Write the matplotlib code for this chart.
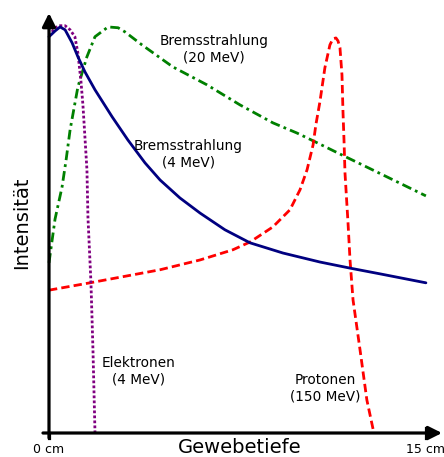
import numpy as np
import matplotlib
matplotlib.use("Agg")
import matplotlib.pyplot as plt

# ── Data (depth in cm, relative intensity in %) ────────────────────────────
brems4_depth = [0.00, 0.24, 0.44, 0.64, 0.92, 1.15, 1.43, 1.83, 2.51, 3.14,
                3.82, 4.42, 5.21, 6.01, 7.00, 8.00, 9.31, 10.78, 11.98, 13.17, 15.00]
brems4_int = [97.1, 98.5, 99.5, 98.8, 95.6, 92.2, 88.5, 84.1, 77.5, 71.8,
              66.2, 62.0, 57.6, 53.9, 49.8, 46.6, 44.1, 41.9, 40.4, 39.0, 36.8]

brems20_depth = [0.00, 0.24, 0.52, 0.68, 0.84, 1.15, 1.51, 1.83, 2.35, 2.75,
                 3.02, 3.70, 4.93, 6.29, 7.60, 8.91, 9.87, 10.51, 11.70,
                 13.17, 15.00]
brems20_int = [41.7, 52.4, 60.3, 66.9, 74.3, 84.8, 92.2, 97.1, 99.5, 99.3,
               98.3, 95.1, 89.7, 85.3, 80.4, 76.0, 73.5, 71.6, 68.0,
               63.6, 58.1]

proton_depth = [0.00, 1.63, 4.42, 6.01, 7.32, 8.00, 8.91, 9.59, 9.99, 10.27,
                10.51, 10.62, 10.78, 10.98, 11.18, 11.30, 11.42, 11.50, 11.58,
                11.66, 11.70, 11.74, 11.78, 11.90, 11.98, 12.10, 12.38, 12.65,
                12.93]
proton_int = [35.0, 36.8, 40.0, 42.4, 44.9, 46.8, 50.5, 54.7, 59.6, 64.5,
              70.6, 75.5, 81.1, 89.5, 95.1, 96.6, 96.8, 96.1, 94.4,
              87.7, 78.7, 71.8, 63.7, 51.5, 42.4, 32.6, 20.3, 8.1, 0.0]

electron_depth = [0.00, 0.24, 0.44, 0.64, 0.84, 1.03, 1.15, 1.27, 1.35, 1.43,
                  1.51, 1.55, 1.67, 1.75, 1.83]
electron_int = [97.3, 99.3, 99.8, 99.8, 98.8, 97.1, 93.1, 86.3, 80.4, 72.5,
                64.5, 52.9, 36.8, 20.3, 0.2]

fig = plt.figure(figsize=(4.44, 4.57), dpi=100)
ax = fig.add_axes([0, 0, 1, 1])
ax.set_xlim(-1.95, 15.72)
ax.set_ylim(-5.88, 106.1)
ax.axis("off")

ax.plot(brems20_depth, brems20_int, color="#008000", lw=2,
        linestyle=(0, (3.5, 1.5, 1, 1.5)))
ax.plot(proton_depth, proton_int, color="#ff0000", lw=2,
        linestyle=(0, (3, 1.5)))
ax.plot(electron_depth, electron_int, color="#800080", lw=2,
        linestyle=(0, (1, 0.8)))
ax.plot(brems4_depth, brems4_int, color="#000080", lw=2, solid_capstyle="round")

# axes with arrow heads
arrow = dict(arrowstyle="-|>", lw=2.3, color="black", mutation_scale=20,
             shrinkA=0, shrinkB=0)
ax.annotate("", xy=(0, 102.9), xytext=(0, -1.2), arrowprops=arrow)
ax.annotate("", xy=(15.64, 0), xytext=(-0.24, 0), arrowprops=arrow)
ax.plot([0, 0], [0, -1.2], color="black", lw=2.3)
ax.plot([15, 15], [1.2, -1.2], color="black", lw=2.3)

ax.text(0, -4.1, "0 cm", ha="center", va="center", fontsize=9)
ax.text(15, -4.1, "15 cm", ha="center", va="center", fontsize=9)
ax.text(7.6, -3.6, "Gewebetiefe", ha="center", va="center", fontsize=14)
ax.text(-1.07, 51.6, "Intensität", ha="center", va="center", fontsize=14,
        rotation=90)

label_kw = dict(ha="center", va="center", fontsize=9.8, linespacing=1.2)
ax.text(6.56, 94.0, "Bremsstrahlung\n(20 MeV)", **label_kw)
ax.text(5.55, 68.3, "Bremsstrahlung\n(4 MeV)", **label_kw)
ax.text(3.55, 15.1, "Elektronen\n(4 MeV)", **label_kw)
ax.text(10.98, 11.0, "Protonen\n(150 MeV)", **label_kw)

fig.savefig("out.png", dpi=100)
